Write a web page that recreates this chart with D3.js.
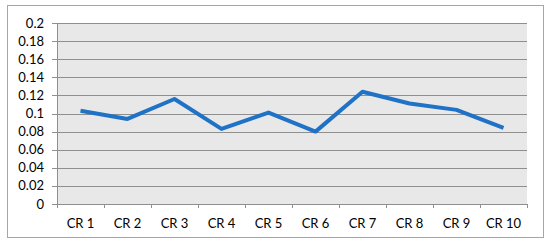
<!DOCTYPE html>
<meta charset="utf-8">
<style>
  body { margin: 0; background: #fff; }
  text { font-family: Lato, "Open Sans", sans-serif; }
</style>
<body>
<div id="chart"></div>
<script src="https://cdn.jsdelivr.net/npm/d3@7"></script>
<script>
const categories = ["CR 1", "CR 2", "CR 3", "CR 4", "CR 5", "CR 6", "CR 7", "CR 8", "CR 9", "CR 10"];
const values = [0.103, 0.094, 0.116, 0.083, 0.101, 0.080, 0.124, 0.111, 0.104, 0.084];
const yTicks = [0, 0.02, 0.04, 0.06, 0.08, 0.1, 0.12, 0.14, 0.16, 0.18, 0.2];

const width = 550, height = 245;
const margin = {top: 23, right: 23, bottom: 41, left: 57};
const innerW = width - margin.left - margin.right,
      innerH = height - margin.top - margin.bottom;

const svg = d3.select("#chart").append("svg")
    .attr("width", width)
    .attr("height", height);

// outer frame
svg.append("rect")
    .attr("x", 7.5).attr("y", 5.5)
    .attr("width", 536).attr("height", 232)
    .style("fill", "#fff")
    .style("stroke", "#a6a6a6")
    .style("stroke-width", 1);

const g = svg.append("g")
    .attr("transform", "translate(" + margin.left + "," + margin.top + ")");

const x = d3.scaleBand().domain(categories).range([0, innerW]);
const y = d3.scaleLinear().domain([0, 0.2]).range([innerH, 0]);

// plot background
g.append("rect")
    .attr("width", innerW).attr("height", innerH)
    .style("fill", "#e8e8e8");

// gridlines
g.selectAll(".grid")
    .data(yTicks)
    .enter().append("line")
    .attr("x1", -5).attr("x2", innerW)
    .attr("y1", d => Math.round(y(d)) + 0.5)
    .attr("y2", d => Math.round(y(d)) + 0.5)
    .style("stroke", "#8f8f8f")
    .style("stroke-width", 1);

// y axis labels
g.selectAll(".ylab")
    .data(yTicks)
    .enter().append("text")
    .attr("x", -13)
    .attr("y", d => y(d))
    .attr("dy", "0.35em")
    .attr("text-anchor", "end")
    .style("font-size", "13px")
    .style("fill", "#000")
    .text(d => d3.format("")(+d.toFixed(2)));

// y axis line
g.append("line")
    .attr("x1", 0.5).attr("x2", 0.5)
    .attr("y1", 0).attr("y2", innerH)
    .style("stroke", "#8f8f8f");

// x ticks
const xTickPos = categories.map(c => x(c)).concat([innerW]);
g.selectAll(".xtick")
    .data(xTickPos)
    .enter().append("line")
    .attr("x1", d => Math.round(d) + 0.5).attr("x2", d => Math.round(d) + 0.5)
    .attr("y1", innerH).attr("y2", innerH + 4)
    .style("stroke", "#8f8f8f");

// x labels
g.selectAll(".xlab")
    .data(categories)
    .enter().append("text")
    .attr("x", d => x(d) + x.bandwidth() / 2)
    .attr("y", innerH + 24)
    .attr("text-anchor", "middle")
    .style("font-size", "13px")
    .style("fill", "#000")
    .text(d => d);

// line
const line = d3.line()
    .x((d, i) => x(categories[i]) + x.bandwidth() / 2)
    .y(d => y(d));

g.append("path")
    .datum(values)
    .attr("d", line)
    .style("fill", "none")
    .style("stroke", "#1f72c6")
    .style("stroke-width", 4)
    .style("stroke-linejoin", "round");
</script>
</body>
